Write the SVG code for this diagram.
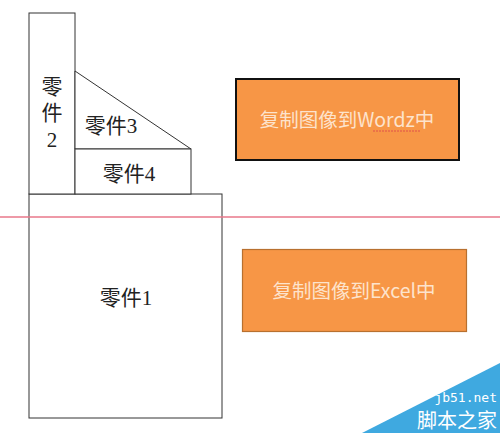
<svg xmlns="http://www.w3.org/2000/svg" width="500" height="433" viewBox="0 0 500 433">
<style>
.part{fill:#fff;stroke:#333;stroke-width:1}
.lbl{font-family:"Liberation Serif","Noto Sans CJK SC",serif;font-size:21px;fill:#222;text-anchor:middle}
.btn{font-family:"Noto Sans CJK SC","Liberation Sans",sans-serif;font-size:19.5px;fill:#fde3cc;text-anchor:middle}
</style>
<rect width="500" height="433" fill="#fff"/>
<g id="part1"><rect class="part" x="29" y="194" width="193" height="224"/><text class="lbl" x="126" y="305">零件1</text></g>
<g id="part2"><rect class="part" x="29" y="13" width="46" height="181"/><text class="lbl" x="52" y="94">零</text><text class="lbl" x="52" y="120">件</text><text class="lbl" x="52" y="147">2</text></g>
<g id="part3"><polygon class="part" points="75,71 191,149 75,149"/><text class="lbl" x="111" y="133">零件3</text></g>
<g id="part4"><rect class="part" x="75" y="149" width="116" height="45"/><text class="lbl" x="129" y="181">零件4</text></g>
<g id="connectors"><line x1="0" y1="217" x2="500" y2="217" stroke="#e8778a" stroke-width="1.6"/></g>
<g id="word"><rect x="236" y="79" width="223" height="81" fill="#f79646" stroke="#111" stroke-width="2"/><text class="btn" x="347" y="127">复制图像到Wordz中</text><line x1="373" y1="131" x2="420" y2="131" stroke="#e0504a" stroke-width="1" stroke-dasharray="2,1"/></g>
<g id="excel"><rect x="242.5" y="249.5" width="224" height="82" fill="#f79646" stroke="#b8702f" stroke-width="1.2"/><text class="btn" x="354" y="298">复制图像到Excel中</text></g>
<g id="watermark"><polygon points="362,433 500,363 500,433" fill="#3fa9e0"/><text x="497" y="402" font-family="DejaVu Sans Mono,monospace" font-size="13" fill="#fff" text-anchor="end">jb51.net</text><text x="497" y="428" font-family="Noto Sans CJK SC,sans-serif" font-size="20" fill="#fff" text-anchor="end">脚本之家</text></g>
</svg>
